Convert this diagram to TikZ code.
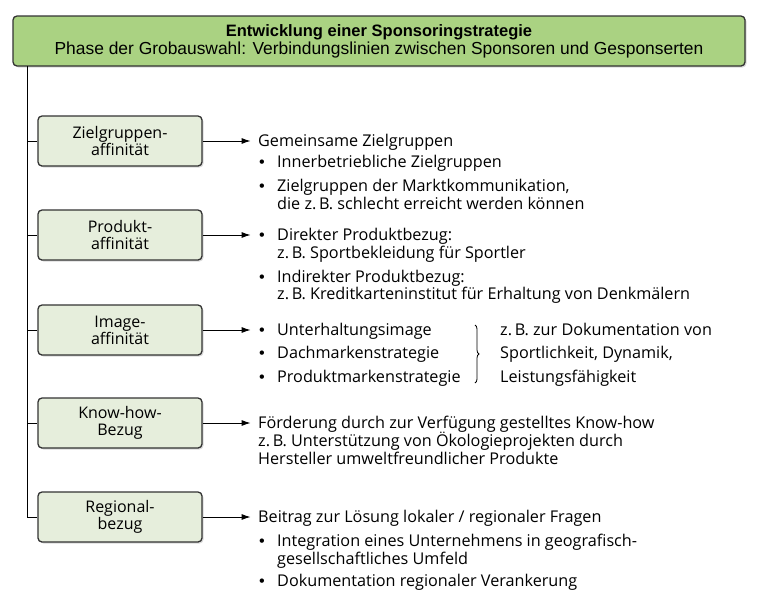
\documentclass[tikz,border=0pt]{standalone}
\usepackage{fontspec}
\setmainfont{Open Sans}
\newfontfamily\kopffont{Liberation Sans}
\usetikzlibrary{arrows.meta}
\usetikzlibrary{shadows}
\usetikzlibrary{decorations.pathreplacing}
\definecolor{kopfgruen}{RGB}{170,210,130}
\definecolor{feldgruen}{RGB}{230,238,220}
\newcommand{\punkt}{\makebox[18pt][l]{\kopffont\textbullet}}

\begin{document}
\begin{tikzpicture}[x=1pt,y=-1pt]
  \tikzset{kat/.style = {draw=black!80,line width=1.3pt,rounded corners=4pt,fill=feldgruen,minimum width=164pt,minimum height=50pt,align=center,font=\fontsize{16}{17}\selectfont,drop shadow={shadow xshift=1.5pt,shadow yshift=-1.5pt,opacity=.3}}}
  \tikzset{kopf/.style = {kat,fill=kopfgruen,minimum width=732pt,font=\kopffont\fontsize{16.5}{18}\selectfont}}
  \tikzset{zeile/.style = {anchor=base west,inner sep=0pt,font=\fontsize{16.2}{18}\selectfont}}
  \tikzset{pfeil/.style = {-{Latex[length=9pt,width=6pt]},line width=1pt}}

  \useasboundingbox (0,0) rectangle (765,600);

  \node[kopf] (H) at (379,41) {\textbf{Entwicklung einer Sponsoringstrategie}\\{\fontsize{17.4}{18}\selectfont Phase der Grobauswahl: Verbindungslinien zwischen Sponsoren und Gesponserten}};

	\node[kat] (Z) at (120,141) {Zielgruppen-\\affinität};
	\node[kat] (P) at (120,235) {Produkt-\\affinität};
	\node[kat] (I) at (120,330) {Image-\\affinität};
	\node[kat] (K) at (120,423) {Know-how-\\Bezug};
	\node[kat] (R) at (120,517) {Regional-\\bezug};

  \coordinate (T) at (27,66);
  \draw[line width=1pt] (T) |- (R.west);
       \foreach \n in {Z,P,I,K}
    \draw[line width=1pt] (T |- \n.west) -- (\n.west);

  % Zielgruppen
  \node[zeile] (z0) at (258,146) {Gemeinsame Zielgruppen};
  \node[zeile] (z1) at (259,167) {\punkt Innerbetriebliche Zielgruppen};
  \node[zeile] (z2) at (259,191) {\punkt Zielgruppen der Marktkommunikation,};
  \node[zeile] (z3) at (277,209) {die z.\,B. schlecht erreicht werden können};
  % Produkt
  \node[zeile] (p0) at (259,240) {\punkt Direkter Produktbezug:};
  \node[zeile] (p1) at (277,258) {z.\,B. Sportbekleidung für Sportler};
  \node[zeile] (p2) at (259,282) {\punkt Indirekter Produktbezug:};
  \node[zeile] (p3) at (277,299) {z.\,B. Kreditkarteninstitut für Erhaltung von Denkmälern};
  % Image
  \node[zeile] (i0) at (259,335) {\punkt Unterhaltungsimage};
  \node[zeile] (i1) at (259,358) {\punkt Dachmarkenstrategie};
  \node[zeile] (i2) at (259,382) {\punkt Produktmarkenstrategie};
  \node[zeile] (i3) at (500,335) {z.\,B. zur Dokumentation von};
  \node[zeile] (i4) at (500,358) {Sportlichkeit, Dynamik,};
  \node[zeile] (i5) at (500,382) {Leistungsfähigkeit};
  \coordinate (B1) at (475,325);
  \coordinate (B2) at (475,383);
  \draw[decorate,decoration={brace,amplitude=4pt},line width=0.8pt] (B1) -- (B2);
  % Know-how
  \node[zeile] (k0) at (258,428) {Förderung durch zur Verfügung gestelltes Know-how};
  \node[zeile] (k1) at (258,446) {z.\,B. Unterstützung von Ökologieprojekten durch};
  \node[zeile] (k2) at (258,464) {Hersteller umweltfreundlicher Produkte};
  % Regional
  \node[zeile] (r0) at (258,522) {Beitrag zur Lösung lokaler / regionaler Fragen};
  \node[zeile] (r1) at (259,546) {\punkt Integration eines Unternehmens in geografisch-};
  \node[zeile] (r2) at (277,564) {gesellschaftliches Umfeld};
  \node[zeile] (r3) at (259,586) {\punkt Dokumentation regionaler Verankerung};

       \foreach \n in {Z,P,I,K,R}
    \draw[pfeil] (\n.east) -- ++(48,0);
\end{tikzpicture}
\end{document}
